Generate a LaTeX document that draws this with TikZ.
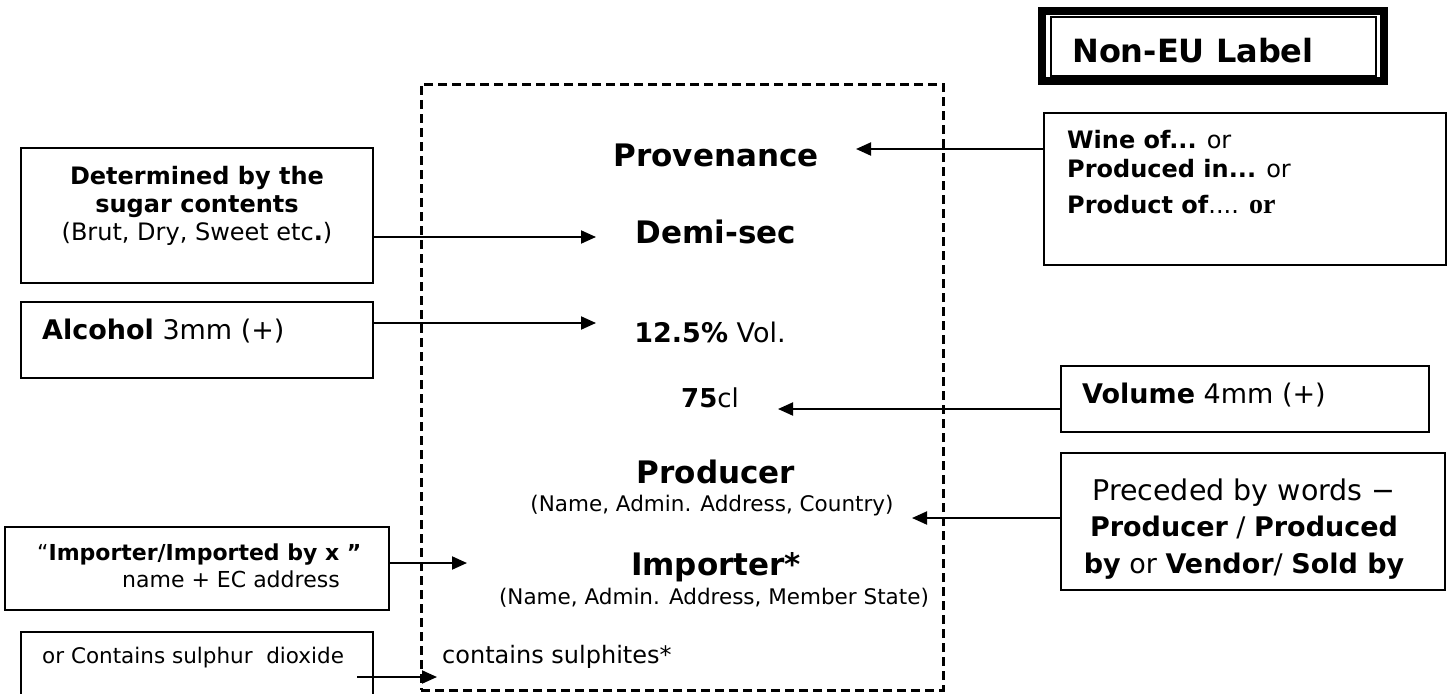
\documentclass[tikz,border=0pt]{standalone}
\usepackage{fontspec}
\setmainfont{DejaVu Sans}
\newfontfamily\timesfont{Liberation Serif}
\usetikzlibrary{arrows.meta}

\newcommand{\fsz}[2]{\fontsize{#1}{#2}\selectfont}
\tikzstyle{box}=[draw,line width=2pt,inner sep=0pt,outer sep=0pt]
\tikzstyle{txt}=[inner sep=0pt,anchor=base]
\tikzstyle{arr}=[line width=2pt,-{Triangle[length=15pt,width=13pt]}]

\begin{document}
\begin{tikzpicture}[x=1pt,y=-1pt]
        \clip (0,0) rectangle (1455,693);
        % label outline and title
        \node[box,line width=3pt,dash pattern=on 9pt off 5pt,minimum width=522pt,minimum height=606pt] (lab) at (682,387) {};
        \node[box,line width=8pt,minimum width=342pt,minimum height=70pt] (title) at (1213,46) {};
        \draw[line width=2pt] ([shift={(8.5,6)}]title.north west) rectangle ([shift={(-8,-5)}]title.south east);
        \node[txt,anchor=base west,font=\fsz{32}{38}\bfseries] (titletxt) at (1072,63) {Non-EU Label};

        % label texts
        \node[txt,font=\fsz{31}{37}\bfseries] (prov) at (716,166) {Provenance};
        \node[txt,font=\fsz{31}{37}\bfseries] (demi) at (716,243) {Demi-sec};
        \node[txt,font=\fsz{27}{32}] (alc) at (710,342) {\textbf{12.5\%} Vol.};
        \node[txt,font=\fsz{26}{31}] (vol) at (710,407) {\textbf{75}cl};
        \node[txt,font=\fsz{31}{37}\bfseries] (prod) at (716,483) {Producer};
        \node[txt,font=\fsz{21.5}{25}] (prodnote) at (712,511) {(Name, Admin. Address, Country)};
        \node[txt,font=\fsz{31}{37}\bfseries] (imp) at (716,575) {Importer*};
        \node[txt,font=\fsz{21.5}{25}] (impnote) at (714,604) {(Name, Admin. Address, Member State)};
        \node[txt,anchor=base west,font=\fsz{24}{29}] (sul) at (442,663) {contains sulphites*};

        % left boxes
        \node[box,minimum width=352pt,minimum height=135pt] (bsugar) at (197,215.5) {};
        \node[txt,align=center,font=\fsz{24}{28}] (sugartxt) at (197,240) {\textbf{Determined by the}\\\textbf{sugar contents}\\(Brut, Dry, Sweet etc\textbf{.})};
        \node[box,minimum width=352pt,minimum height=76pt] (balc) at (197,340) {};
        \node[txt,anchor=base west,font=\fsz{27}{32}] (alctxt) at (42,339) {\textbf{Alcohol} 3mm (+)};
        \node[box,minimum width=384pt,minimum height=83pt] (bimp) at (197,568.5) {};
        \node[txt,anchor=base west,align=left,font=\fsz{22}{27}] (imptxt) at (37,587) {“\textbf{Importer/Imported by x ”}\\\hspace*{85pt}name + EC address};
        \node[box,minimum width=352pt,minimum height=100pt] (bsul) at (197,682) {};
        \node[txt,anchor=base west,font=\fsz{21.5}{26}] (sultxt) at (42,663) {or Contains sulphur\ \ dioxide};

        % right boxes
        \node[box,minimum width=402pt,minimum height=152pt] (bprov) at (1245,189) {};
        \node[txt,anchor=base west,align=left,font=\fsz{24}{29}] (provtxt) at (1067,213) {\textbf{Wine of...} or\\\textbf{Produced in...} or\\[7pt]\textbf{Product of}.... {\timesfont\bfseries\fsz{28}{30}or}};
        \node[box,minimum width=368pt,minimum height=66pt] (bvol) at (1245,399) {};
        \node[txt,anchor=base west,font=\fsz{27}{32}] (voltxt) at (1082,403) {\textbf{Volume} 4mm (+)};
        \node[box,minimum width=384pt,minimum height=137pt] (bprod) at (1253,521.5) {};
        \node[txt,align=center,font=\fsz{27}{36.5}] (prodtxt) at (1244,573) {{\fsz{28.5}{36.5}Preceded by words −}\\\textbf{Producer} / \textbf{Produced}\\\textbf{by} or \textbf{Vendor}/ \textbf{Sold by}};

        % arrows
        \coordinate (tprov) at (856,149);
        \coordinate (tdemi) at (596,237);
        \coordinate (talc) at (596,323);
        \coordinate (tvol) at (778,409);
        \coordinate (tprod) at (912,518);
        \coordinate (timp) at (467,563);
        \coordinate (ssul) at (357,677);
        \coordinate (tsul) at (437,677);
        \draw[arr] (bprov.west |- tprov) -- (tprov);
        \draw[arr] (bsugar.east |- tdemi) -- (tdemi);
        \draw[arr] (balc.east |- talc) -- (talc);
        \draw[arr] (bvol.west |- tvol) -- (tvol);
        \draw[arr] (bprod.west |- tprod) -- (tprod);
        \draw[arr] (bimp.east |- timp) -- (timp);
        \draw[arr] (ssul) -- (tsul);
    \end{tikzpicture}
\end{document}
